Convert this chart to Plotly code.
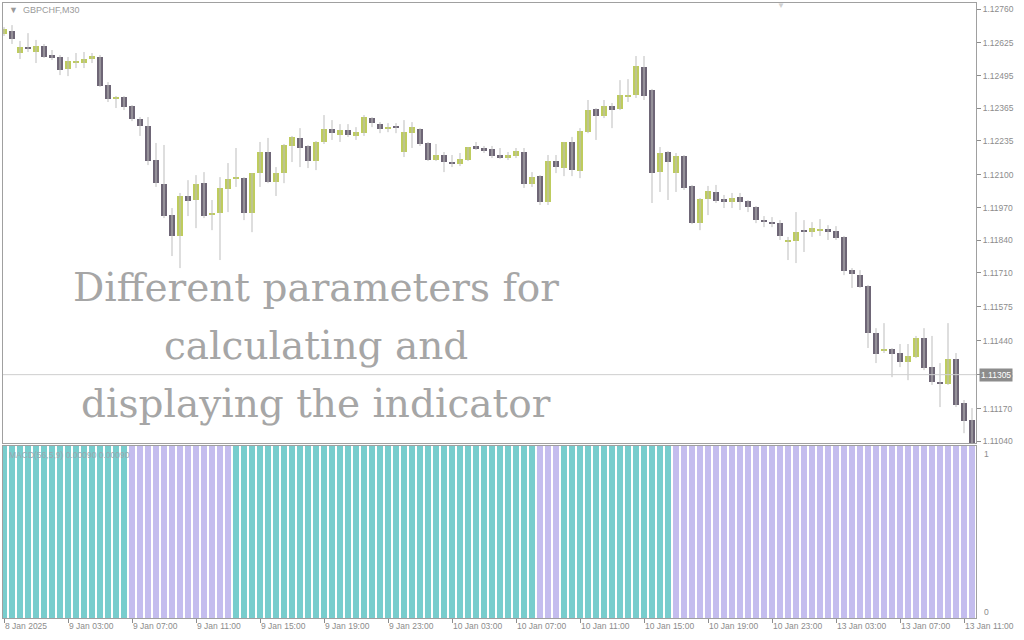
import plotly.graph_objects as go

# ---------------- data (GBPCHF, M30) ----------------
opens = [1.12660, 1.12672, 1.12585, 1.12609, 1.12589, 1.12613, 1.12577, 1.12569, 1.12521, 1.12549,
         1.12545, 1.12561, 1.12569, 1.12458, 1.12402, 1.12410, 1.12374, 1.12322, 1.12294, 1.12159,
         1.12064, 1.11940, 1.11857, 1.12016, 1.12000, 1.12067, 1.11940, 1.11948, 1.12044, 1.12083,
         1.12087, 1.11948, 1.12107, 1.12191, 1.12071, 1.12107, 1.12215, 1.12247, 1.12215, 1.12155,
         1.12231, 1.12282, 1.12259, 1.12278, 1.12255, 1.12266, 1.12326, 1.12302, 1.12282, 1.12294,
         1.12191, 1.12266, 1.12282, 1.12227, 1.12159, 1.12179, 1.12151, 1.12143, 1.12159, 1.12215,
         1.12207, 1.12203, 1.12179, 1.12167, 1.12175, 1.12191, 1.12064, 1.12095, 1.11992, 1.12155,
         1.12127, 1.12231, 1.12115, 1.12270, 1.12362, 1.12334, 1.12374, 1.12362, 1.12410, 1.12418,
         1.12529, 1.12438, 1.12111, 1.12191, 1.12107, 1.12175, 1.12056, 1.11908, 1.12004, 1.12032,
         1.12004, 1.11992, 1.12012, 1.11996, 1.11972, 1.11920, 1.11912, 1.11908, 1.11833, 1.11837,
         1.11880, 1.11872, 1.11880, 1.11884, 1.11876, 1.11853, 1.11721, 1.11701, 1.11658, 1.11470,
         1.11399, 1.11407, 1.11391, 1.11355, 1.11375, 1.11451, 1.11335, 1.11275, 1.11267, 1.11367,
         1.11192, 1.11124]
highs = [1.12688, 1.12696, 1.12633, 1.12664, 1.12637, 1.12621, 1.12597, 1.12577, 1.12569, 1.12585,
         1.12589, 1.12585, 1.12577, 1.12469, 1.12414, 1.12414, 1.12378, 1.12330, 1.12330, 1.12227,
         1.12219, 1.11968, 1.12028, 1.12079, 1.12099, 1.12111, 1.12000, 1.12091, 1.12147, 1.12207,
         1.12091, 1.12107, 1.12231, 1.12247, 1.12131, 1.12223, 1.12255, 1.12286, 1.12219, 1.12235,
         1.12338, 1.12318, 1.12302, 1.12302, 1.12290, 1.12338, 1.12330, 1.12310, 1.12306, 1.12306,
         1.12318, 1.12310, 1.12286, 1.12231, 1.12223, 1.12191, 1.12179, 1.12187, 1.12211, 1.12231,
         1.12215, 1.12215, 1.12207, 1.12191, 1.12207, 1.12207, 1.12111, 1.12099, 1.12179, 1.12179,
         1.12231, 1.12251, 1.12286, 1.12398, 1.12366, 1.12398, 1.12386, 1.12477, 1.12481, 1.12573,
         1.12573, 1.12442, 1.12211, 1.12195, 1.12187, 1.12179, 1.12060, 1.12008, 1.12056, 1.12060,
         1.12020, 1.12028, 1.12028, 1.12000, 1.11976, 1.11936, 1.11932, 1.11920, 1.11853, 1.11952,
         1.11920, 1.11912, 1.11924, 1.11900, 1.11896, 1.11857, 1.11729, 1.11721, 1.11662, 1.11490,
         1.11510, 1.11411, 1.11427, 1.11427, 1.11459, 1.11490, 1.11459, 1.11351, 1.11510, 1.11391,
         1.11204, 1.11172]
lows = [1.12653, 1.12621, 1.12561, 1.12589, 1.12545, 1.12565, 1.12557, 1.12497, 1.12493, 1.12525,
        1.12525, 1.12545, 1.12450, 1.12390, 1.12366, 1.12358, 1.12314, 1.12255, 1.12139, 1.12052,
        1.11928, 1.11777, 1.11729, 1.11936, 1.11888, 1.11928, 1.11880, 1.11761, 1.11952, 1.12052,
        1.11920, 1.11872, 1.12052, 1.12067, 1.12016, 1.12067, 1.12151, 1.12131, 1.12127, 1.12119,
        1.12223, 1.12239, 1.12231, 1.12251, 1.12239, 1.12255, 1.12290, 1.12266, 1.12270, 1.12266,
        1.12171, 1.12207, 1.12215, 1.12155, 1.12155, 1.12111, 1.12131, 1.12135, 1.12155, 1.12199,
        1.12187, 1.12167, 1.12163, 1.12159, 1.12167, 1.12048, 1.12052, 1.11980, 1.11980, 1.12107,
        1.12095, 1.12095, 1.12087, 1.12266, 1.12239, 1.12326, 1.12286, 1.12358, 1.12390, 1.12406,
        1.12398, 1.11988, 1.12032, 1.12000, 1.12032, 1.12040, 1.11904, 1.11880, 1.11940, 1.11988,
        1.11968, 1.11968, 1.11960, 1.11952, 1.11908, 1.11892, 1.11892, 1.11841, 1.11761, 1.11749,
        1.11793, 1.11853, 1.11857, 1.11841, 1.11841, 1.11701, 1.11650, 1.11650, 1.11411, 1.11351,
        1.11391, 1.11295, 1.11335, 1.11283, 1.11371, 1.11323, 1.11264, 1.11176, 1.11264, 1.11176,
        1.11072, 1.11029]
closes = [1.12680, 1.12641, 1.12609, 1.12601, 1.12613, 1.12569, 1.12565, 1.12517, 1.12553, 1.12553,
          1.12561, 1.12573, 1.12454, 1.12402, 1.12410, 1.12370, 1.12322, 1.12294, 1.12155, 1.12067,
          1.11936, 1.11857, 1.12016, 1.11996, 1.12064, 1.11936, 1.11948, 1.12048, 1.12083, 1.12091,
          1.11948, 1.12107, 1.12191, 1.12071, 1.12107, 1.12219, 1.12251, 1.12207, 1.12155, 1.12231,
          1.12282, 1.12266, 1.12278, 1.12259, 1.12270, 1.12330, 1.12306, 1.12282, 1.12290, 1.12286,
          1.12270, 1.12290, 1.12223, 1.12159, 1.12179, 1.12151, 1.12143, 1.12163, 1.12211, 1.12203,
          1.12195, 1.12175, 1.12167, 1.12179, 1.12195, 1.12064, 1.12091, 1.11992, 1.12155, 1.12131,
          1.12231, 1.12119, 1.12274, 1.12358, 1.12334, 1.12374, 1.12358, 1.12418, 1.12418, 1.12533,
          1.12414, 1.12107, 1.12187, 1.12151, 1.12175, 1.12048, 1.11908, 1.12004, 1.12036, 1.11996,
          1.11992, 1.12008, 1.11992, 1.11972, 1.11920, 1.11912, 1.11904, 1.11857, 1.11841, 1.11872,
          1.11872, 1.11888, 1.11884, 1.11872, 1.11849, 1.11717, 1.11705, 1.11654, 1.11470, 1.11387,
          1.11407, 1.11387, 1.11355, 1.11379, 1.11451, 1.11331, 1.11275, 1.11267, 1.11367, 1.11184,
          1.11120, 1.11029]

# indicator state runs: (state, number of bars); 1 = up (teal), 0 = down (lavender)
state_runs = [(1, 16), (0, 13), (1, 38), (0, 3), (1, 14), (0, 38)]
indicator_value = 1

time_ticks = ["8 Jan 2025", "9 Jan 03:00", "9 Jan 07:00", "9 Jan 11:00", "9 Jan 15:00",
              "9 Jan 19:00", "9 Jan 23:00", "10 Jan 03:00", "10 Jan 07:00", "10 Jan 11:00",
              "10 Jan 15:00", "10 Jan 19:00", "10 Jan 23:00", "13 Jan 03:00", "13 Jan 07:00",
              "13 Jan 11:00"]
bars_per_tick = 8

price_ticks = [1.12760, 1.12625, 1.12495, 1.12365, 1.12235, 1.12100, 1.11970,
               1.11840, 1.11710, 1.11575, 1.11440, 1.11305, 1.11170, 1.11040]
hline_price = 1.11305

symbol_label = "GBPCHF,M30"
indicator_label = "MACD(56,5,9) 0.00090 0.00090"
overlay_lines = ["Different parameters for", "calculating and", "displaying the indicator"]

# ---------------- styles ----------------
C_UP = "#BECC5E"
C_DN = "#6E6676"
C_WICK = "#BDBDBD"
C_TEAL = "#78CDCD"
C_LAV = "#C4BDEE"
C_AXIS = "#8C8C8C"
C_FRAME = "#A0A0A0"
W, H = 1024, 640

n = len(opens)
idx = list(range(n))

body_base = [min(o, c) for o, c in zip(opens, closes)]
body_h = [abs(c - o) for o, c in zip(opens, closes)]
body_col = [C_UP if c >= o else C_DN for o, c in zip(opens, closes)]

wx, wy = [], []
for i in idx:
    wx += [i, i, None]
    wy += [lows[i], highs[i], None]

states = []
for s, k in state_runs:
    states += [s] * k
ind_col = [C_TEAL if s == 1 else C_LAV for s in states]

fig = go.Figure()
fig.add_trace(go.Scatter(x=wx, y=wy, mode="lines", line=dict(color=C_WICK, width=1),
                         hoverinfo="skip", showlegend=False, xaxis="x", yaxis="y"))
fig.add_trace(go.Bar(x=idx, y=body_h, base=body_base, width=0.8,
                     marker=dict(color=body_col, line=dict(width=0)),
                     showlegend=False, xaxis="x", yaxis="y"))
fig.add_trace(go.Bar(x=idx, y=[indicator_value] * n, width=0.78,
                     marker=dict(color=ind_col, line=dict(width=0)),
                     showlegend=False, xaxis="x2", yaxis="y2"))

x_dom = [3 / W, 976 / W]
axis_font = dict(family="Liberation Sans, Arial, sans-serif", size=8.5, color=C_AXIS)

fig.update_layout(
    width=W, height=H,
    margin=dict(l=0, r=0, t=0, b=0, autoexpand=False),
    paper_bgcolor="white", plot_bgcolor="white",
    bargap=0, barmode="overlay",
    font=axis_font,
    xaxis=dict(domain=x_dom, anchor="y", range=[-0.125, n - 0.5], automargin=False,
               showticklabels=False, ticks="", showgrid=False, zeroline=False,
               showline=True, mirror=True, linecolor=C_FRAME, linewidth=1),
    yaxis=dict(domain=[1 - 443 / H, 1 - 3 / H], anchor="x", side="right",
               range=[1.11033, 1.12784], automargin=False,
               tickvals=price_ticks, ticktext=[f"{p:.5f}" for p in price_ticks],
               ticks="outside", ticklen=4, tickcolor=C_AXIS,
               showgrid=False, zeroline=False,
               showline=True, mirror=True, linecolor=C_FRAME, linewidth=1,
               tickfont=axis_font),
    xaxis2=dict(domain=x_dom, anchor="y2", matches="x", range=[-0.125, n - 0.5],
                automargin=False,
                tickvals=[i * bars_per_tick for i in range(len(time_ticks))],
                ticktext=time_ticks, ticks="outside", ticklen=4, tickcolor=C_AXIS,
                ticklabelposition="outside right",
                showgrid=False, zeroline=False,
                showline=True, mirror=True, linecolor=C_FRAME, linewidth=1,
                tickfont=axis_font),
    yaxis2=dict(domain=[1 - 618 / H, 1 - 446 / H], anchor="x2", side="right",
                range=[0, 1], showticklabels=False, ticks="", automargin=False,
                showgrid=False, zeroline=False,
                showline=True, mirror=True, linecolor=C_FRAME, linewidth=1),
)

# horizontal price line
fig.add_shape(type="line", xref="paper", x0=3 / W, x1=976 / W, yref="y",
              y0=hline_price, y1=hline_price, line=dict(color="#CFCFCF", width=1))
fig.add_annotation(xref="paper", x=979 / W, xanchor="left", yref="y", y=hline_price,
                   text=f"{hline_price:.5f}", showarrow=False, bgcolor="#8C8C8C",
                   font=dict(family="Liberation Sans, Arial, sans-serif", size=8.5, color="white"),
                   borderpad=1)

# symbol label
fig.add_annotation(xref="paper", yref="paper", x=7 / W, y=1 - 10 / H, xanchor="left",
                   yanchor="middle", text="▼  " + symbol_label, showarrow=False,
                   font=dict(family="Liberation Sans, Arial, sans-serif", size=9, color="#9A9A9A"))
# shift marker
fig.add_annotation(xref="paper", yref="paper", x=781 / W, y=1 - 5 / H, xanchor="center",
                   yanchor="middle", text="▼", showarrow=False,
                   font=dict(size=8, color="#D0D0D0"))

# indicator label
fig.add_annotation(xref="paper", yref="paper", x=7 / W, y=1 - 455 / H, xanchor="left",
                   yanchor="middle", text=indicator_label, showarrow=False,
                   font=dict(family="Liberation Sans, Arial, sans-serif", size=8.5, color="#9AA8B0"))

# indicator scale labels
for v, shift in [(1, -8), (0, 6)]:
    fig.add_annotation(xref="paper", x=982 / W, xanchor="left", yref="y2", y=v, yshift=shift,
                       text=str(v), showarrow=False, font=axis_font)

# overlay text
for line, yc in zip(overlay_lines, [287, 345, 403]):
    fig.add_annotation(xref="paper", yref="paper", x=316 / W, y=1 - yc / H,
                       xanchor="center", yanchor="middle", text=line, showarrow=False,
                       font=dict(family="DejaVu Serif, serif", size=39, color="#A6A6A6"))

fig.write_html("out.html", config={"displayModeBar": False},
               post_script="document.body.style.margin='0';document.body.style.padding='0';")
